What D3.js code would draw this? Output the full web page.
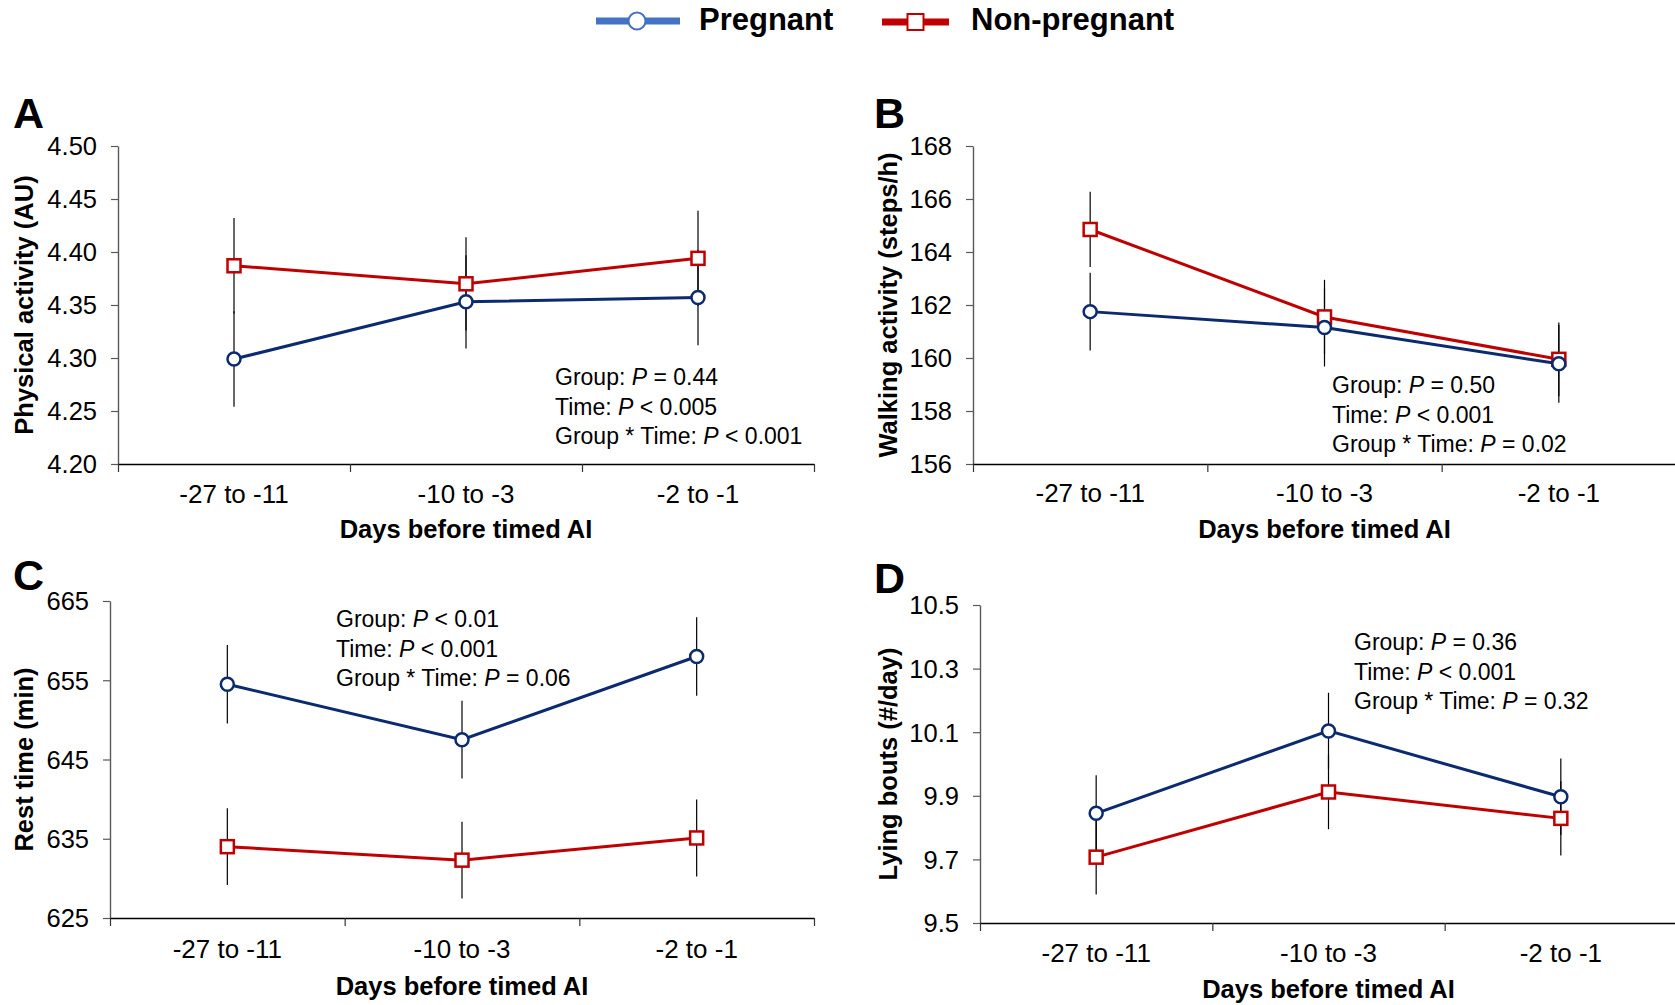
<!DOCTYPE html>
<html>
<head>
<meta charset="utf-8">
<script src="https://cdn.jsdelivr.net/npm/d3@7"></script>
<style>
  body { margin: 0; background: #fff; }
  svg { display: block; font-family: "Liberation Sans", Arial, sans-serif; }
</style>
</head>
<body>
<svg id="chart"></svg>
<script>
// categories on the x axis (days before timed AI)
const categories = ["-27 to -11", "-10 to -3", "-2 to -1"];

// A: physical activity (AU)
const pregA = [4.299, 4.353, 4.357];
const nonA = [4.387, 4.370, 4.394];
const sePregA = [0.045, 0.044, 0.045];
const seNonA = [0.045, 0.044, 0.045];
const ticksA = [4.20, 4.25, 4.30, 4.35, 4.40, 4.45, 4.50];
const statsA = [["Group: ", "= 0.44"], ["Time: ", "< 0.005"], ["Group * Time: ", "< 0.001"]];

// B: walking activity (steps/h)
const pregB = [161.75, 161.15, 159.78];
const nonB = [164.85, 161.55, 159.95];
const sePregB = [1.47, 1.47, 1.47];
const seNonB = [1.42, 1.40, 1.39];
const ticksB = [156, 158, 160, 162, 164, 166, 168];
const statsB = [["Group: ", "= 0.50"], ["Time: ", "< 0.001"], ["Group * Time: ", "= 0.02"]];

// C: rest time (min)
const pregC = [654.5, 647.5, 658.0];
const nonC = [634.0, 632.3, 635.1];
const sePregC = [4.95, 4.9, 4.95];
const seNonC = [4.85, 4.85, 4.85];
const ticksC = [625, 635, 645, 655, 665];
const statsC = [["Group: ", "< 0.01"], ["Time: ", "< 0.001"], ["Group * Time: ", "= 0.06"]];

// D: lying bouts (#/day)
const pregD = [9.845, 10.104, 9.897];
const nonD = [9.707, 9.912, 9.829];
const sePregD = [0.12, 0.12, 0.12];
const seNonD = [0.117, 0.117, 0.117];
const ticksD = [9.5, 9.7, 9.9, 10.1, 10.3, 10.5];
const statsD = [["Group: ", "= 0.36"], ["Time: ", "< 0.001"], ["Group * Time: ", "= 0.32"]];

const width = 1675, height = 1005;
const navy = "#0b2a6f", red = "#c00000";

const svg = d3.select("#chart").attr("width", width).attr("height", height);
svg.append("rect").attr("width", width).attr("height", height).attr("fill", "#fff");

// Legend
const legend = svg.append("g");
legend.append("line").attr("x1", 596).attr("x2", 680).attr("y1", 21).attr("y2", 21)
  .attr("stroke", "#4472c4").attr("stroke-width", 7);
legend.append("circle").attr("cx", 637).attr("cy", 21).attr("r", 8.5)
  .attr("fill", "#fff").attr("stroke", "#4472c4").attr("stroke-width", 2);
legend.append("text").attr("x", 699).attr("y", 30).style("font-size", "31px")
  .style("font-weight", "bold").text("Pregnant");
legend.append("line").attr("x1", 882).attr("x2", 949).attr("y1", 22).attr("y2", 22)
  .attr("stroke", red).attr("stroke-width", 7);
legend.append("rect").attr("x", 907.5).attr("y", 14).attr("width", 16).attr("height", 16)
  .attr("fill", "#fff").attr("stroke", red).attr("stroke-width", 2);
legend.append("text").attr("x", 971).attr("y", 30).style("font-size", "31px")
  .style("font-weight", "bold").text("Non-pregnant");

const panels = [
  { letter: "A", lx: 13, ly: 128, x0: 118, x1: 814, top: 146, bottom: 464, yTitleX: 33,
    title: "Physical activity (AU)", preg: pregA, non: nonA, sePreg: sePregA, seNon: seNonA,
    ticks: ticksA, fmt: d3.format(".2f"), stats: statsA, sx: 555, sy: 385, tickY: 503, labY: 538 },
  { letter: "B", lx: 874, ly: 128, x0: 973, x1: 1676, top: 146, bottom: 464, yTitleX: 897,
    title: "Walking activity (steps/h)", preg: pregB, non: nonB, sePreg: sePregB, seNon: seNonB,
    ticks: ticksB, fmt: d3.format("d"), stats: statsB, sx: 1332, sy: 393, tickY: 502, labY: 538 },
  { letter: "C", lx: 13, ly: 590, x0: 110, x1: 814, top: 601, bottom: 918, yTitleX: 33,
    title: "Rest time (min)", preg: pregC, non: nonC, sePreg: sePregC, seNon: seNonC,
    ticks: ticksC, fmt: d3.format("d"), stats: statsC, sx: 336, sy: 627, tickY: 958, labY: 995 },
  { letter: "D", lx: 874, ly: 593, x0: 980, x1: 1677, top: 605, bottom: 923, yTitleX: 897,
    title: "Lying bouts (#/day)", preg: pregD, non: nonD, sePreg: sePregD, seNon: seNonD,
    ticks: ticksD, fmt: d3.format(".1f"), stats: statsD, sx: 1354, sy: 650, tickY: 962, labY: 998 }
];

panels.forEach((p) => {
  const g = svg.append("g");

  const x = d3.scaleBand().domain(categories).range([p.x0, p.x1]).padding(0);
  const xPos = (c) => x(c) + x.bandwidth() / 2;
  const xEdge = d3.scaleLinear().domain([0, 3]).range([p.x0, p.x1]);
  const y = d3.scaleLinear().domain([p.ticks[0], p.ticks[p.ticks.length - 1]])
    .range([p.bottom, p.top]);

  // panel letter
  g.append("text").attr("x", p.lx).attr("y", p.ly).style("font-size", "43px")
    .style("font-weight", "bold").text(p.letter);

  // y axis
  const yAxis = g.append("g").attr("transform", `translate(${p.x0},0)`)
    .call(d3.axisLeft(y).tickValues(p.ticks).tickFormat(p.fmt)
      .tickSizeInner(7).tickSizeOuter(0).tickPadding(14));
  yAxis.select(".domain").attr("stroke", "#595959").attr("stroke-width", 1.4);
  yAxis.selectAll(".tick line").attr("stroke", "#595959").attr("stroke-width", 1.2);
  yAxis.selectAll("text").style("font-size", "25.5px").attr("fill", "#000")
    .attr("font-family", null).attr("dy", "0.35em");

  // x axis: tick marks at band edges
  const xAxis = g.append("g").attr("transform", `translate(0,${p.bottom})`)
    .call(d3.axisBottom(xEdge).tickValues([0, 1, 2, 3]).tickFormat("")
      .tickSizeInner(8).tickSizeOuter(0));
  xAxis.select(".domain").attr("stroke", "#000").attr("stroke-width", 1.4);
  xAxis.selectAll(".tick line").attr("stroke", "#333").attr("stroke-width", 1.2);

  // x category labels
  const xLab = g.append("g").attr("transform", `translate(0,${p.tickY})`)
    .call(d3.axisBottom(x).tickSize(0).tickPadding(0));
  xLab.select(".domain").remove();
  xLab.selectAll("text").style("font-size", "26px").attr("fill", "#000")
    .attr("font-family", null).attr("dy", 0).attr("y", 0);

  // axis titles
  g.append("text").attr("x", (p.x0 + p.x1) / 2).attr("y", p.labY)
    .attr("text-anchor", "middle").style("font-size", "25.5px").style("font-weight", "bold")
    .text("Days before timed AI");
  g.append("text")
    .attr("transform", `translate(${p.yTitleX},${(p.top + p.bottom) / 2}) rotate(-90)`)
    .attr("text-anchor", "middle").style("font-size", "25.5px").style("font-weight", "bold")
    .text(p.title);

  // series: non-pregnant first, pregnant on top
  const series = [
    { vals: p.non, se: p.seNon, color: red, shape: "square" },
    { vals: p.preg, se: p.sePreg, color: navy, shape: "circle" }
  ];

  series.forEach((s) => {
    const pts = categories.map((c, i) => ({ c, v: s.vals[i], e: s.se[i] }));
    g.append("g").selectAll("line").data(pts).enter().append("line")
      .attr("x1", (d) => xPos(d.c)).attr("x2", (d) => xPos(d.c))
      .attr("y1", (d) => y(d.v - d.e)).attr("y2", (d) => y(d.v + d.e))
      .attr("stroke", "#000").attr("stroke-width", 1.2);
  });

  series.forEach((s) => {
    const pts = categories.map((c, i) => ({ c, v: s.vals[i] }));
    const line = d3.line().x((d) => xPos(d.c)).y((d) => y(d.v));
    g.append("path").datum(pts).attr("fill", "none").attr("stroke", s.color)
      .attr("stroke-width", 3).attr("d", line);
    if (s.shape === "circle") {
      g.append("g").selectAll("circle").data(pts).enter().append("circle")
        .attr("cx", (d) => xPos(d.c)).attr("cy", (d) => y(d.v)).attr("r", 6.5)
        .attr("fill", "#fff").attr("stroke", s.color).attr("stroke-width", 2.5);
    } else {
      g.append("g").selectAll("rect").data(pts).enter().append("rect")
        .attr("x", (d) => xPos(d.c) - 6.5).attr("y", (d) => y(d.v) - 6.5)
        .attr("width", 13).attr("height", 13)
        .attr("fill", "#fff").attr("stroke", s.color).attr("stroke-width", 2.5);
    }
  });

  // statistics annotation
  p.stats.forEach((st, i) => {
    const t = g.append("text").attr("x", p.sx).attr("y", p.sy + i * 29.5)
      .style("font-size", "23px").attr("fill", "#000");
    t.append("tspan").text(st[0]);
    t.append("tspan").style("font-style", "italic").text("P");
    t.append("tspan").text(" " + st[1]);
  });
});
</script>
</body>
</html>
